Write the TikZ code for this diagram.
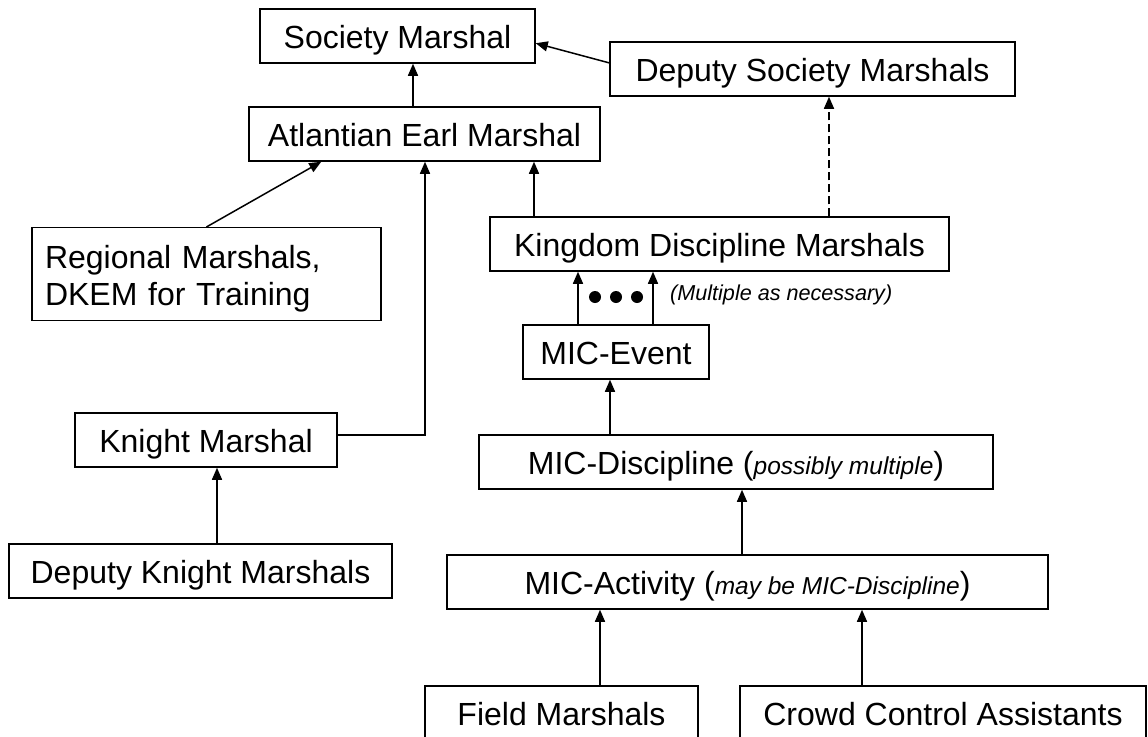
\documentclass[tikz,border=0pt]{standalone}
\usepackage{fontspec}
\setmainfont{Liberation Sans}
\usetikzlibrary{arrows.meta}
\usetikzlibrary{calc}
\tikzstyle{office}=[rectangle,draw,line width=1.5pt,inner sep=0pt,text height=25pt,text depth=0pt,font=\fontsize{32}{37}\selectfont]
\tikzstyle{edge} = [draw,line width=1.5pt,-{Triangle[length=12pt,width=10pt]}]
\tikzstyle{dashededge} = [edge,dash pattern=on 8pt off 4pt]
\tikzstyle{dot}=[circle,fill=black,minimum size=12pt,inner sep=0pt]
\tikzstyle{note} = [font=\fontsize{21.6}{25}\selectfont\itshape,anchor=west,inner sep=0pt]
\newcommand{\remark}[1]{{\fontsize{24.5}{28}\selectfont\itshape #1}}

\begin{document}
\begin{tikzpicture}[x=1pt,y=-1pt]

 \useasboundingbox[fill=white] (0,0) rectangle (1148,736);

 %Society level
 \foreach \x/\y/\w/\h/\name/\label in {397.5/36/275/54/soc/{Society Marshal}, 812.5/69/405/54/dsoc/{Deputy Society Marshals}, 424.5/134/351/54/aem/{Atlantian Earl Marshal}}
        \node[office, minimum width=\w pt, minimum height=\h pt] (\name) at (\x,\y) {\label};

 %Regional
 \node[office, minimum width=349pt, minimum height=93pt, text width=323pt, align=left, text height=23pt, text depth=35.4pt] (reg) at (206.5,274.2) {Regional Marshals,\\DKEM for Training};

 %Knight marshal branch
 \foreach \x/\y/\w/\h/\name/\label in {206/440/262/54/km/{Knight Marshal}, 200.5/571/383/54/dkm/{Deputy Knight Marshals}}
        \node[office, minimum width=\w pt, minimum height=\h pt] (\name) at (\x,\y) {\label};

 %Discipline branch
 \foreach \x/\y/\w/\h/\name/\label in {719.5/244/459/54/kdm/{Kingdom Discipline Marshals}, 616/352/186/54/mev/{MIC-Event}, 736/462/514/54/mdis/{MIC-Discipline (\remark{possibly multiple})}, 747.5/582/601/54/mact/{MIC-Activity (\remark{may be MIC-Discipline})}, 561.5/713/273/54/fm/{Field Marshals}, 943/713/406/54/cca/{Crowd Control Assistants}}
        \node[office, minimum width=\w pt, minimum height=\h pt] (\name) at (\x,\y) {\label};

 \foreach \x in {595,616,637}
        \node[dot] (dot\x) at (\x,297) {};
 \node[note] (multi) at (670,295) {(Multiple as necessary)};

 %Connectors
 \path[edge] ($(dsoc.north west)!0.39!(dsoc.south west)$) -- ($(soc.north east)!0.63!(soc.south east)$);
 \path[edge] (413,0 |- aem.north) -- (413,0 |- soc.south);
 \path[edge] (reg.north) -- ($(aem.south west)+(73,0)$);
 \path[edge] ($(km.east)+(0,-5)$) -| (425,0 |- aem.south);
 \path[edge] (217,0 |- dkm.north) -- (217,0 |- km.south);
 \path[edge] (534,0 |- kdm.north) -- (534,0 |- aem.south);
 \path[dashededge] (829,0 |- kdm.north) -- (829,0 |- dsoc.south);

 \foreach \xx in {578,653}
        \path[edge] (\xx,0 |- mev.north) -- (\xx,0 |- kdm.south);

 \foreach \xx/\source/\dest in {610/mdis/mev, 742/mact/mdis, 600/fm/mact, 862/cca/mact}
        \path[edge] (\xx,0 |- \source.north) -- (\xx,0 |- \dest.south);

\end{tikzpicture}
\end{document}
